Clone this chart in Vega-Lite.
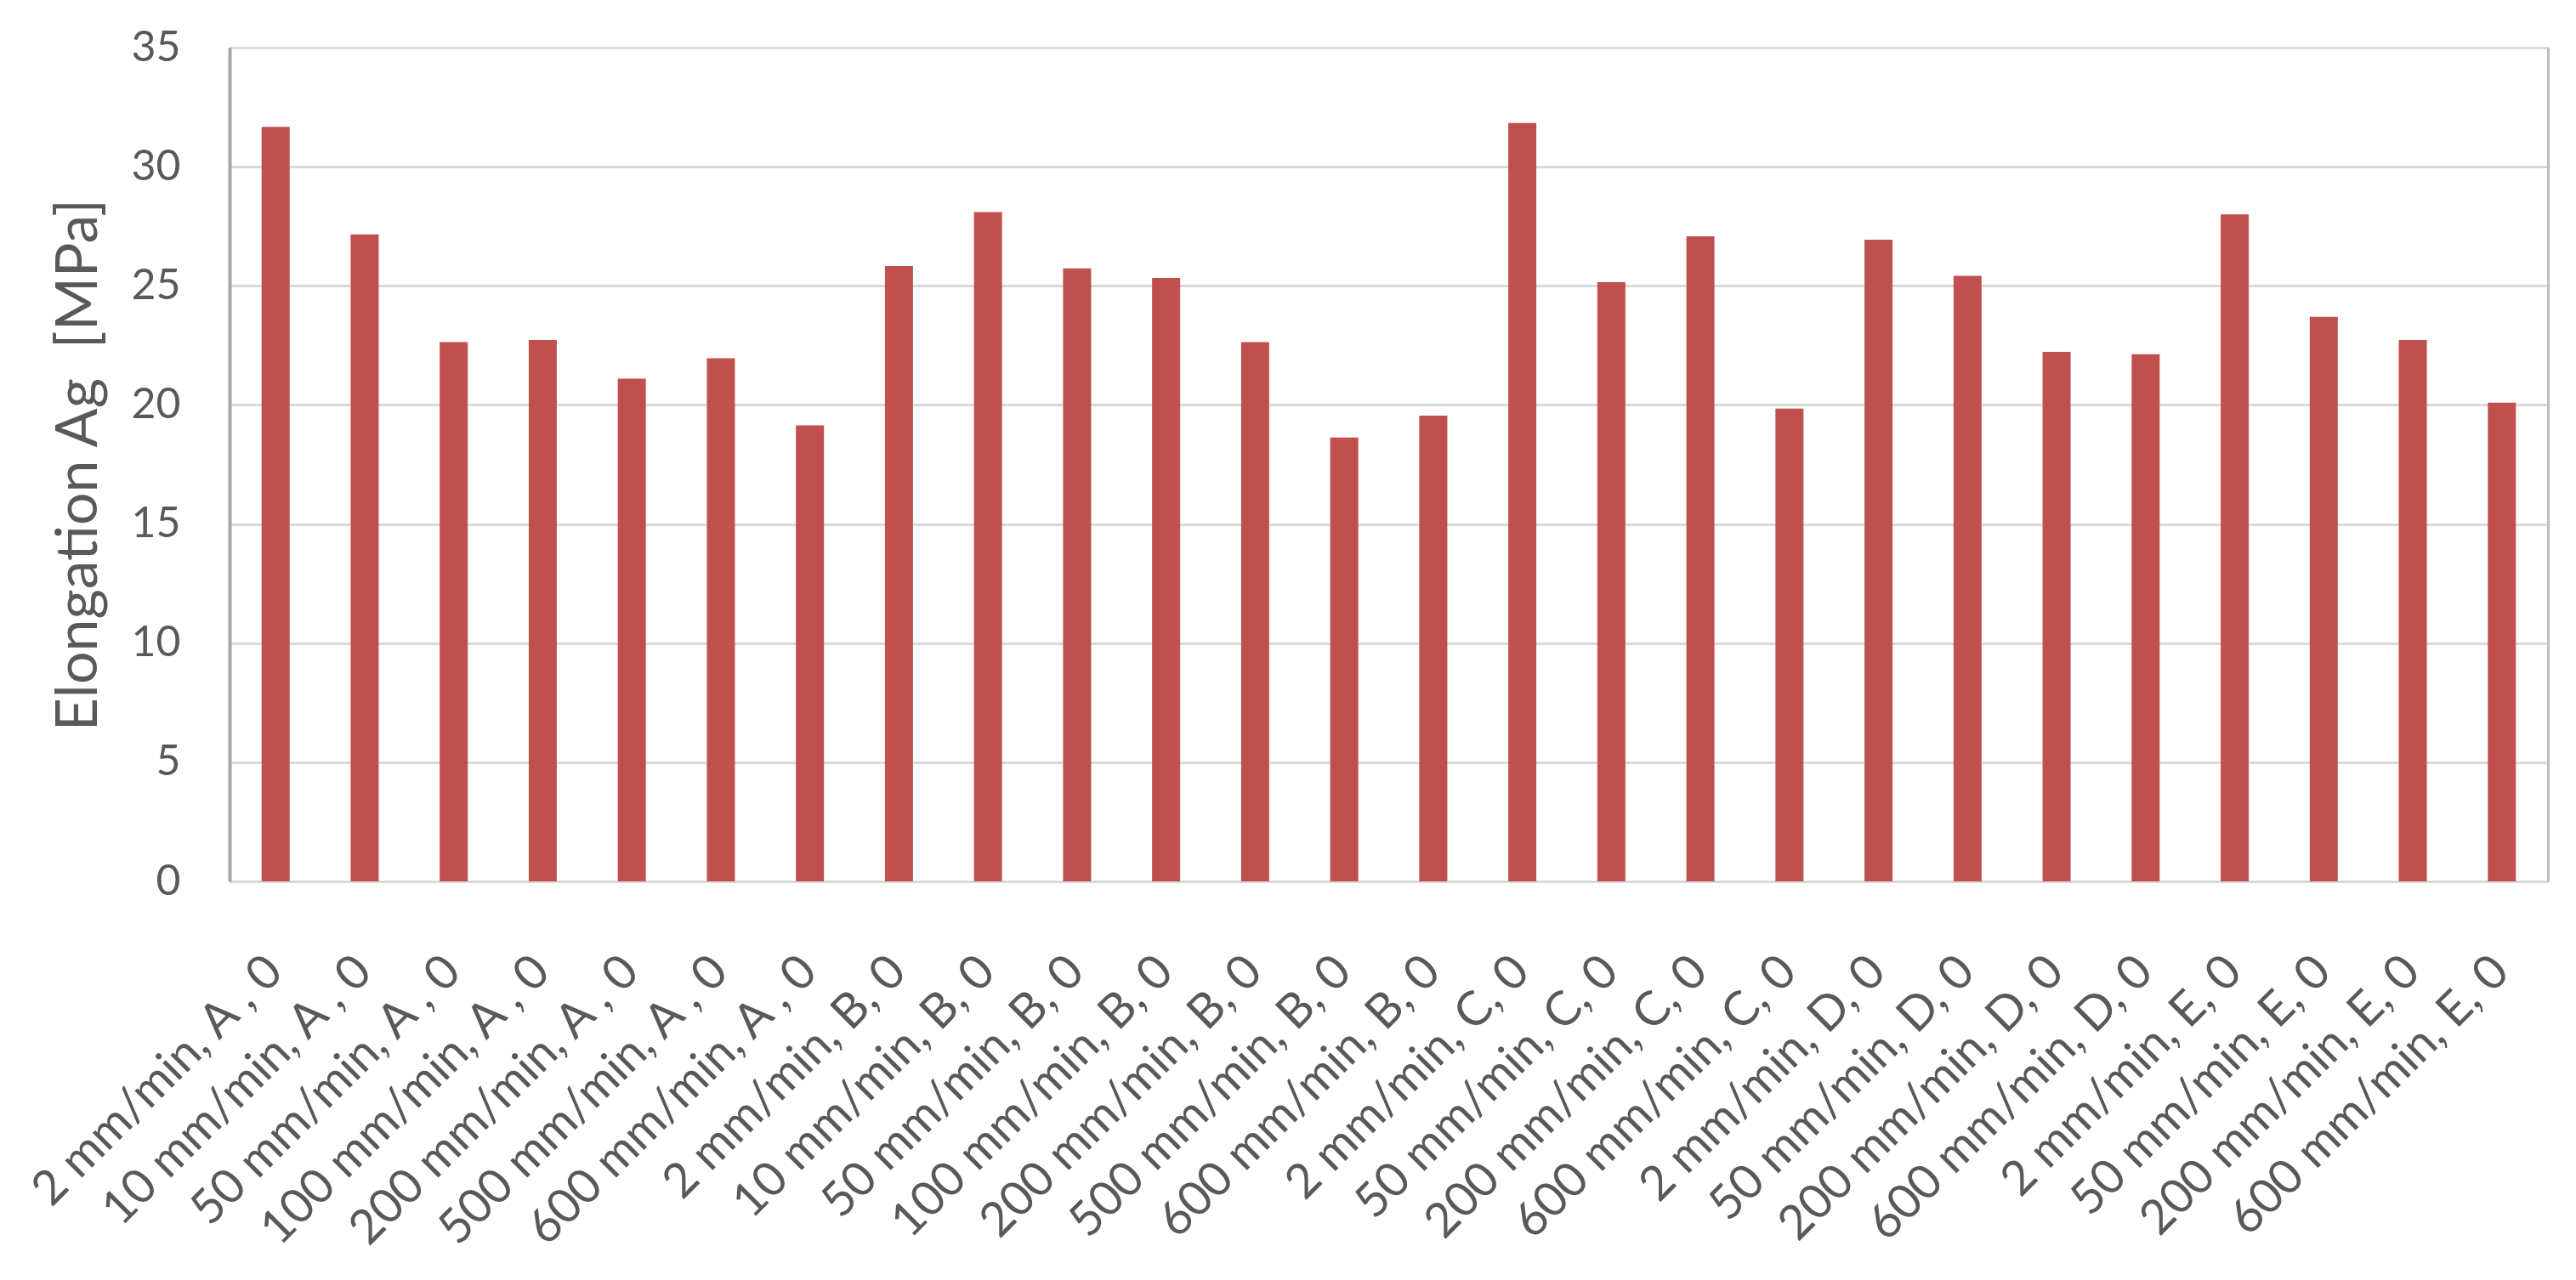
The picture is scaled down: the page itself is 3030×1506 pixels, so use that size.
{
  "$schema": "https://vega.github.io/schema/vega-lite/v6.json",
  "width": 2727,
  "height": 981,
  "autosize": {"type": "none"},
  "padding": {"left": 270, "top": 56, "right": 33, "bottom": 469},
  "background": "white",
  "config": {"view": {"stroke": null}, "font": "Lato"},
  "data": {
    "values": [
      {"label": "2 mm/min, A , 0", "value": 31.67},
      {"label": "10 mm/min, A , 0", "value": 27.16},
      {"label": "50 mm/min, A , 0", "value": 22.64},
      {"label": "100 mm/min, A , 0", "value": 22.73},
      {"label": "200 mm/min, A , 0", "value": 21.1},
      {"label": "500 mm/min, A , 0", "value": 21.96},
      {"label": "600 mm/min, A , 0", "value": 19.14},
      {"label": "2 mm/min, B, 0", "value": 25.83},
      {"label": "10 mm/min, B, 0", "value": 28.1},
      {"label": "50 mm/min, B, 0", "value": 25.73},
      {"label": "100 mm/min, B, 0", "value": 25.33},
      {"label": "200 mm/min, B, 0", "value": 22.64},
      {"label": "500 mm/min, B, 0", "value": 18.63},
      {"label": "600 mm/min, B, 0", "value": 19.55},
      {"label": "2 mm/min, C, 0", "value": 31.83},
      {"label": "50 mm/min, C, 0", "value": 25.15},
      {"label": "200 mm/min, C, 0", "value": 27.08},
      {"label": "600 mm/min, C, 0", "value": 19.85},
      {"label": "2 mm/min, D, 0", "value": 26.94},
      {"label": "50 mm/min, D, 0", "value": 25.42},
      {"label": "200 mm/min, D, 0", "value": 22.23},
      {"label": "600 mm/min, D, 0", "value": 22.13},
      {"label": "2 mm/min, E, 0", "value": 28.0},
      {"label": "50 mm/min, E, 0", "value": 23.7},
      {"label": "200 mm/min, E, 0", "value": 22.73},
      {"label": "600 mm/min, E, 0", "value": 20.1}
    ]
  },
  "layer": [
    {
      "mark": {"type": "bar", "color": "#C0504D"},
      "encoding": {
        "x": {
          "field": "label", "type": "nominal", "sort": null,
          "scale": {"paddingInner": 0.685, "paddingOuter": 0.36},
          "axis": {
            "title": null, "labelAngle": -45, "labelFontSize": 56, "labelColor": "#595959",
            "labelFont": "Lato", "ticks": false, "domain": false, "labelPadding": 78,
            "labelOffset": -20, "labelLimit": 0, "labelOverlap": false
          }
        },
        "y": {
          "field": "value", "type": "quantitative",
          "scale": {"domain": [0, 35], "nice": false},
          "axis": {
            "values": [0, 5, 10, 15, 20, 25, 30, 35],
            "title": "Elongation Ag\u00a0\u00a0[MPa]", "titleFontSize": 68, "titleFontWeight": "normal",
            "titleColor": "#595959", "titleFont": "Lato", "titlePadding": 26,
            "labelFontSize": 50, "labelColor": "#595959", "labelFont": "Lato", "labelPadding": 58,
            "labelOverlap": false,
            "gridColor": "#D9D9D9", "gridWidth": 3, "ticks": false,
            "domainColor": "#A6A6A6", "domainWidth": 4
          }
        }
      }
    },
    {
      "mark": {"type": "bar", "opacity": 0},
      "encoding": {
        "x": {"field": "label", "type": "nominal", "sort": null},
        "y": {
          "field": "value", "type": "quantitative",
          "axis": {"orient": "right", "labels": false, "ticks": false, "grid": false, "title": null,
                   "domain": true, "domainColor": "#BFBFBF", "domainWidth": 3}
        }
      }
    }
  ],
  "resolve": {"axis": {"y": "independent"}}
}
